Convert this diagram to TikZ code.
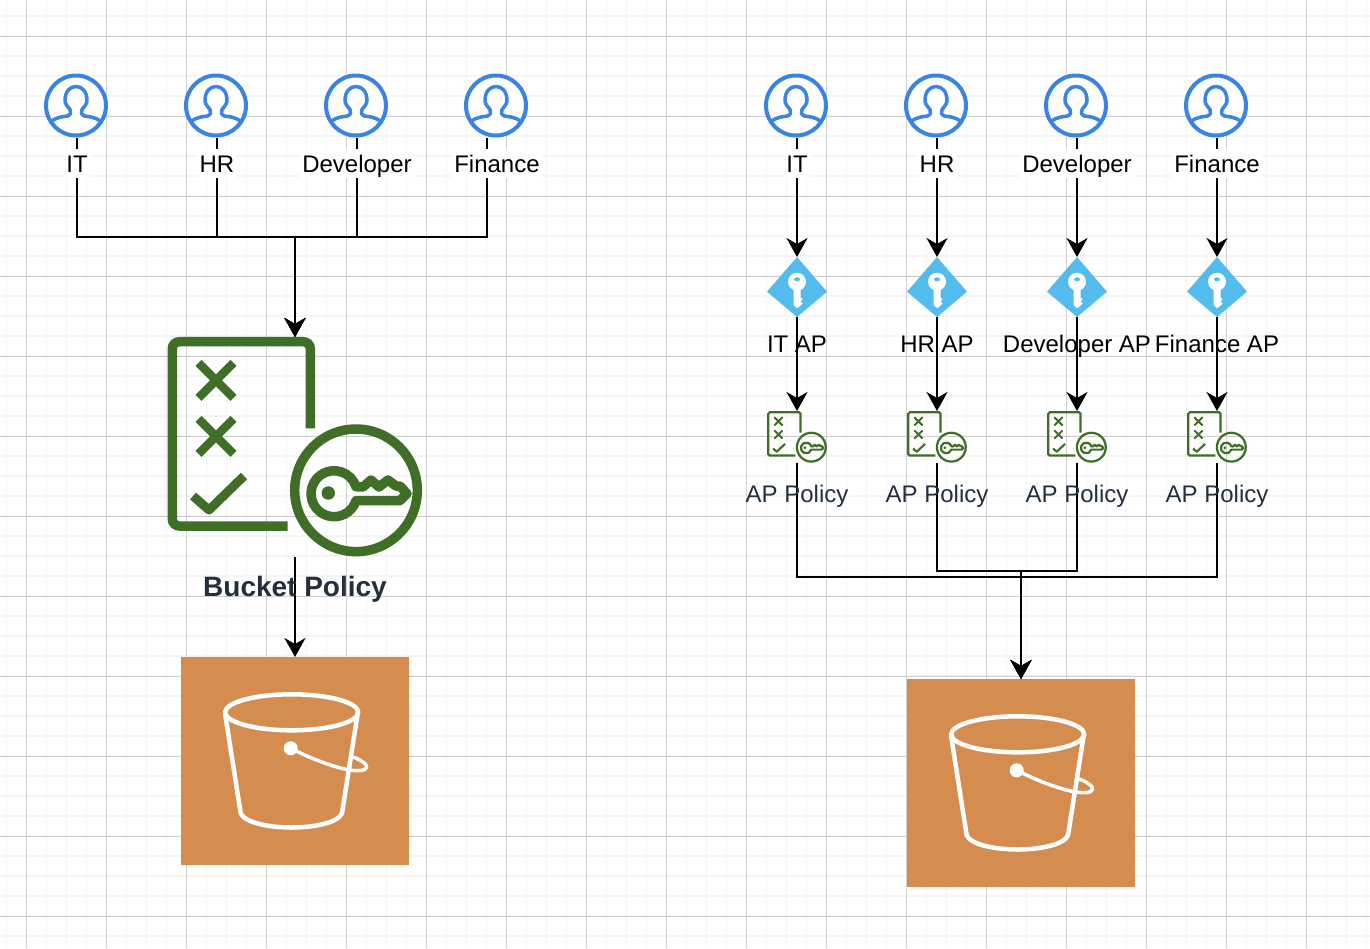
\documentclass[tikz,border=0pt]{standalone}
\usepackage{fontspec}
\setmainfont{Liberation Sans}
\usetikzlibrary{arrows.meta,shapes.geometric}

\definecolor{usrblue}{HTML}{3A84E6}
\definecolor{keyblue}{HTML}{53BCEC}
\definecolor{polgreen}{HTML}{3F6F27}
\definecolor{bktorange}{HTML}{D48D4F}
\definecolor{inkdark}{HTML}{232F3E}
\definecolor{gridminor}{HTML}{F5F5F5}
\definecolor{gridmajor}{HTML}{D0D0D0}

% person drawn inside a user circle
\newcommand{\usrshape}[1]{
    \draw[usrblue, line width=3.5pt, line join=round, shift={(#1)}]
        (-24.5,15.5) .. controls (-19,11.5) and (-12,11) .. (-8.5,10.5)
        .. controls (-5,9.5) and (-5,6) .. (-6,4)
        .. controls (-8,1) and (-11,-1) .. (-11,-5)
        .. controls (-11,-14) and (-6,-19) .. (0,-19)
        .. controls (6,-19) and (11,-14) .. (11,-5)
        .. controls (11,-1) and (8,1) .. (6,4)
        .. controls (5,6) and (5,9.5) .. (8.5,10.5)
        .. controls (12,11) and (19,11.5) .. (24.5,15.5);
}

% blue kite with white key
\newcommand{\keyshape}[1]{
    \begin{scope}[shift={(#1)}]
        \fill[keyblue] (0,-30) -- (30,4.7) -- (0,30) -- (-30,4.7) -- cycle;
        \fill[white] (0,-5.3) circle[radius=9];
        \fill[white] (-3.5,-2) -- (-3.5,18) -- (0,21.3) -- (3.5,18.5) -- (5.5,16.5) -- (3.5,14.5) -- (5.5,12.5) -- (3.5,10.5) -- (3.5,-2) -- cycle;
        \fill[keyblue] (0,-7.7) ellipse[x radius=3, y radius=2];
    \end{scope}
}

% checklist with key, #2 = scale
\newcommand{\polshape}[2]{
    \begin{scope}[shift={(#1)}, scale=#2, polgreen, line width=#2*9.5pt]
        \draw[rounded corners=#2*7pt] (15.3,-18.7) -- (15.3,-105.3) -- (-122.7,-105.3) -- (-122.7,79) -- (-7.3,79);
        \draw[line width=#2*8.5pt] (-96.5,-84.2) -- (-61.5,-49.2) (-96.5,-49.2) -- (-61.5,-84.2);
        \draw[line width=#2*8.5pt] (-96.5,-28.2) -- (-61.5,6.8) (-96.5,6.8) -- (-61.5,-28.2);
        \draw[line width=#2*9pt, line join=round] (-102,49) -- (-86,63) -- (-51,29);
        \draw (61,43.3) circle[radius=61.3];
        \fill (33.3,46) circle[radius=6.7];
        \draw[line join=round] (105,53.7) -- (61,53.7) arc[start angle=17.7, end angle=342.3, radius=23]
            -- (68,40) -- (76,33) -- (84,40) -- (93,33) -- (101,39) -- (105,39) -- (112,46.7) -- cycle;
    \end{scope}
}

% white bucket on the orange square
\newcommand{\bktshape}[1]{
    \begin{scope}[shift={(#1)}, white, line width=4.5pt, line join=round]
        \draw (-3.3,-48.7) ellipse[x radius=66.5, y radius=18];
        \draw (-70,-47.7) -- (-54.3,52.3) .. controls (-50,62) and (-25,66.5) .. (-3.5,66.5)
            .. controls (18,66.5) and (43,62) .. (47,52.3) -- (62.7,-47.7);
        \fill (-4.3,-12.7) circle[radius=7];
        \draw[line width=3.5pt] (-4.3,-12.7) .. controls (15,-3) and (35,5) .. (52,8.5)
            .. controls (62,10.5) and (71,10) .. (71.7,6.3) .. controls (72,3) and (65,-2) .. (56.7,-4.3);
    \end{scope}
}

\begin{document}
\begin{tikzpicture}[
    x=1pt, y=-1pt,
    usr/.style={circle, draw=usrblue, line width=4pt, fill=white, minimum size=60pt, inner sep=0pt},
    apkey/.style={diamond, minimum size=60pt, inner sep=0pt, outer sep=0pt},
    polbig/.style={minimum width=255pt, minimum height=220pt, inner sep=0pt, outer sep=0pt},
    polsmall/.style={minimum width=60pt, minimum height=52pt, inner sep=0pt, outer sep=0pt},
    bkt/.style={fill=bktorange, minimum width=228pt, minimum height=208pt, inner sep=0pt, outer sep=0pt},
    usrlabel/.style={anchor=base, fill=white, font=\fontsize{24}{28}\selectfont, text height=23pt, text depth=6pt, inner xsep=2pt, inner ysep=0pt},
    aplabel/.style={anchor=base, font=\fontsize{24}{28}\selectfont, inner sep=0pt},
    pollabel/.style={anchor=base, text=inkdark, font=\fontsize{24}{28}\selectfont, inner sep=0pt},
    arrow/.style={line width=2.2pt, -{Stealth[length=19pt, width=21pt, inset=6pt]}}
]
    \useasboundingbox (0,0) rectangle (1370,948);

    % Grid
    \foreach \gx in {0,...,68} {\draw[color=gridminor, line width=1.6pt] (6.5+20*\gx,0) -- (6.5+20*\gx,948);}
    \foreach \gy in {0,...,46} {\draw[color=gridminor, line width=1.6pt] (0,16+20*\gy) -- (1370,16+20*\gy);}
    \foreach \gx in {0,...,16} {\draw[color=gridmajor, line width=1pt] (26.5+80*\gx,0) -- (26.5+80*\gx,948);}
    \foreach \gy in {0,...,11} {\draw[color=gridmajor, line width=1pt] (0,36.5+80*\gy) -- (1370,36.5+80*\gy);}

    % Left users
    \node[usr] (ua1) at (76,105.5) {};
    \node[usr] (ua2) at (216,105.5) {};
    \node[usr] (ua3) at (356,105.5) {};
    \node[usr] (ua4) at (496,105.5) {};

    % Left policy and bucket
    \node[polbig] (pola) at (295,447) {};
    \node[bkt] (bkta) at (295,761) {};
    \coordinate (busa) at (295,237);

    % Right users
    \node[usr] (ub1) at (796,105.5) {};
    \node[usr] (ub2) at (936,105.5) {};
    \node[usr] (ub3) at (1076,105.5) {};
    \node[usr] (ub4) at (1216,105.5) {};

    % Access points
    \node[apkey] (ap1) at (797,287) {};
    \node[apkey] (ap2) at (937,287) {};
    \node[apkey] (ap3) at (1077,287) {};
    \node[apkey] (ap4) at (1217,287) {};

    % Access point policies
    \node[polsmall] (pol1) at (797,437) {};
    \node[polsmall] (pol2) at (937,437) {};
    \node[polsmall] (pol3) at (1077,437) {};
    \node[polsmall] (pol4) at (1217,437) {};

    % Right bucket
    \node[bkt] (bktb) at (1021,783) {};
    \coordinate (busb) at (1021,577);
    \coordinate (busc) at (1021,571);

    % Arrows - left users to bucket policy
    \draw[arrow] ([xshift=1pt]ua1.south) |- (busa) -- (pola.north);
    \draw[arrow] ([xshift=1pt]ua2.south) |- (busa) -- (pola.north);
    \draw[arrow] ([xshift=1pt]ua3.south) |- (busa) -- (pola.north);
    \draw[arrow] ([xshift=-9pt]ua4.south) |- (busa) -- (pola.north);
    \draw[arrow] (pola.south) -- (bkta.north);

    % Arrows - right users to access points
    \draw[arrow] ([xshift=1pt]ub1.south) -- (ap1.north);
    \draw[arrow] ([xshift=1pt]ub2.south) -- (ap2.north);
    \draw[arrow] ([xshift=1pt]ub3.south) -- (ap3.north);
    \draw[arrow] ([xshift=1pt]ub4.south) -- (ap4.north);

    % Arrows - access points to policies
    \draw[arrow] (ap1.south) -- (pol1.north);
    \draw[arrow] (ap2.south) -- (pol2.north);
    \draw[arrow] (ap3.south) -- (pol3.north);
    \draw[arrow] (ap4.south) -- (pol4.north);

    % Arrows - policies to bucket
    \draw[arrow] (pol1.south) |- (busb) -- (bktb.north);
    \draw[arrow] (pol4.south) |- (busb) -- (bktb.north);
    \draw[arrow] (pol2.south) |- (busc) -- (bktb.north);
    \draw[arrow] (pol3.south) |- (busc) -- (bktb.north);

    % Icons
    \usrshape{ua1} \usrshape{ua2} \usrshape{ua3} \usrshape{ua4}
    \usrshape{ub1} \usrshape{ub2} \usrshape{ub3} \usrshape{ub4}
    \keyshape{ap1} \keyshape{ap2} \keyshape{ap3} \keyshape{ap4}
    \polshape{pola}{1}
    \polshape{pol1}{0.235} \polshape{pol2}{0.235} \polshape{pol3}{0.235} \polshape{pol4}{0.235}
    \bktshape{bkta} \bktshape{bktb}

    % Labels
    \node[usrlabel] (la1) at (77,172) {IT};
    \node[usrlabel] (la2) at (217,172) {HR};
    \node[usrlabel] (la3) at (357,172) {Developer};
    \node[usrlabel] (la4) at (497,172) {Finance};
    \node[usrlabel] (lb1) at (797,172) {IT};
    \node[usrlabel] (lb2) at (937,172) {HR};
    \node[usrlabel] (lb3) at (1077,172) {Developer};
    \node[usrlabel] (lb4) at (1217,172) {Finance};

    \node[aplabel] (lap1) at (797,352) {IT AP};
    \node[aplabel] (lap2) at (937,352) {HR AP};
    \node[aplabel] (lap3) at (1077,352) {Developer AP};
    \node[aplabel] (lap4) at (1217,352) {Finance AP};

    \node[pollabel] (lpol1) at (797,502) {AP Policy};
    \node[pollabel] (lpol2) at (937,502) {AP Policy};
    \node[pollabel] (lpol3) at (1077,502) {AP Policy};
    \node[pollabel] (lpol4) at (1217,502) {AP Policy};

    \node[pollabel, font=\fontsize{28}{32}\selectfont\bfseries] (lpola) at (295,596) {Bucket Policy};

\end{tikzpicture}
\end{document}
